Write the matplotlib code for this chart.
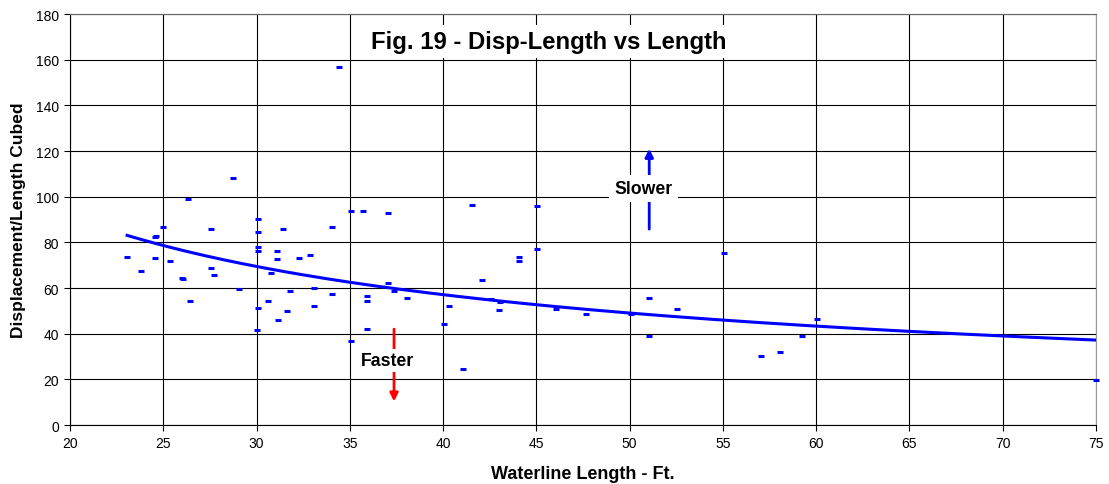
import numpy as np
import matplotlib
matplotlib.use("Agg")
import matplotlib.pyplot as plt
from matplotlib.patches import Rectangle

plt.rcParams['font.family'] = ['Liberation Sans', 'DejaVu Sans']

# waterline length (ft) and disp/length ratio
lwl = [23.06, 23.81, 24.56, 24.60, 24.56, 25.00, 25.36, 26.00, 26.07, 26.31,
       26.41, 27.56, 27.56, 27.72, 28.75, 29.08, 30.06, 30.06, 30.06, 30.06,
       30.06, 30.00, 30.63, 30.76, 31.08, 31.08, 31.17, 31.40, 31.63, 31.79,
       32.29, 32.87, 33.06, 33.06, 34.06, 34.06, 34.44, 35.06, 35.06, 35.72,
       35.90, 35.90, 35.90, 37.03, 37.06, 37.39, 38.08, 40.07, 40.32, 41.07,
       41.57, 42.07, 42.57, 43.00, 43.07, 44.05, 44.05, 45.05, 45.05, 46.07,
       47.64, 50.07, 51.06, 51.06, 52.56, 55.07, 57.06, 58.06, 59.24, 60.07,
       75.00]
disp_len = [73.4, 67.3, 82.3, 82.8, 73.0, 86.6, 71.7, 64.4, 63.8, 98.9,
            54.3, 86.0, 68.9, 65.6, 108.2, 59.6, 90.2, 84.5, 77.8, 76.2,
            51.2, 41.5, 54.3, 66.6, 76.4, 72.9, 46.0, 85.9, 49.8, 58.6,
            73.3, 74.3, 59.9, 52.3, 86.7, 57.4, 156.8, 93.6, 36.7, 93.7,
            56.5, 54.5, 41.9, 62.0, 92.7, 58.7, 55.5, 44.1, 52.3, 24.4,
            96.4, 63.4, 55.3, 50.2, 53.7, 73.6, 71.8, 95.8, 77.1, 50.8,
            48.6, 48.6, 55.6, 38.8, 50.7, 75.3, 30.4, 32.1, 38.8, 46.3,
            19.7]

# power trendline y = a * x^b
trend_a = 704.0
trend_b = -0.681

x_ticks = list(range(20, 80, 5))
y_ticks = list(range(0, 200, 20))

fig = plt.figure(figsize=(11.09, 4.85), dpi=100)
ax = fig.add_axes([0.0631, 0.1216, 0.9252, 0.8474])

ax.set_xlim(20, 75)
ax.set_ylim(0, 180)
ax.set_xticks(x_ticks)
ax.set_yticks(y_ticks)
ax.grid(True, color='black', lw=0.8, zorder=0)
ax.set_axisbelow(True)
for s in ax.spines.values():
    s.set_color('black')
    s.set_linewidth(0.8)
ax.spines['right'].set_color('#999999')
ax.spines['top'].set_color('#666666')
ax.tick_params(direction='out', length=4, width=0.8, labelsize=10, pad=4)

ax.plot(lwl, disp_len, ls='none', marker='_', ms=4.5, mew=2.2,
        color='#0000FF', zorder=3, clip_on=False)

xt = np.linspace(min(lwl), max(lwl), 200)
ax.plot(xt, trend_a * xt ** trend_b, color='#0000FF', lw=2.2, zorder=4)

ax.set_xlabel('Waterline Length - Ft.', fontsize=13, fontweight='bold', labelpad=11)
ax.set_ylabel('Displacement/Length Cubed', fontsize=12.5, fontweight='bold', labelpad=7)

# white box behind the in-plot title
ax.add_patch(Rectangle((0.278, 0.893), 0.373, 0.080, transform=ax.transAxes,
                       fc='white', ec='none', zorder=5))
ax.text(0.467, 0.933, 'Fig. 19 - Disp-Length vs Length', transform=ax.transAxes,
        ha='center', va='center', fontsize=17.2, fontweight='bold', zorder=6)

# slower / faster arrows
ax.annotate('', xy=(51.05, 121), xytext=(51.05, 85.8),
            arrowprops=dict(arrowstyle='-|>', color='#0000FF', lw=2,
                            mutation_scale=12, shrinkA=0, shrinkB=0), zorder=5)
ax.text(50.75, 103.5, 'Slower', ha='center', va='center', fontsize=12.7,
        fontweight='bold', zorder=6,
        bbox=dict(boxstyle='square,pad=0.3', fc='white', ec='none'))

ax.annotate('', xy=(37.37, 10.3), xytext=(37.37, 42),
            arrowprops=dict(arrowstyle='-|>', color='#FF0000', lw=2,
                            mutation_scale=12, shrinkA=0, shrinkB=0), zorder=5)
ax.text(37.03, 28.2, 'Faster', ha='center', va='center', fontsize=12.7,
        fontweight='bold', zorder=6,
        bbox=dict(boxstyle='square,pad=0.15', fc='white', ec='none'))

fig.savefig('out.png', dpi=100)
